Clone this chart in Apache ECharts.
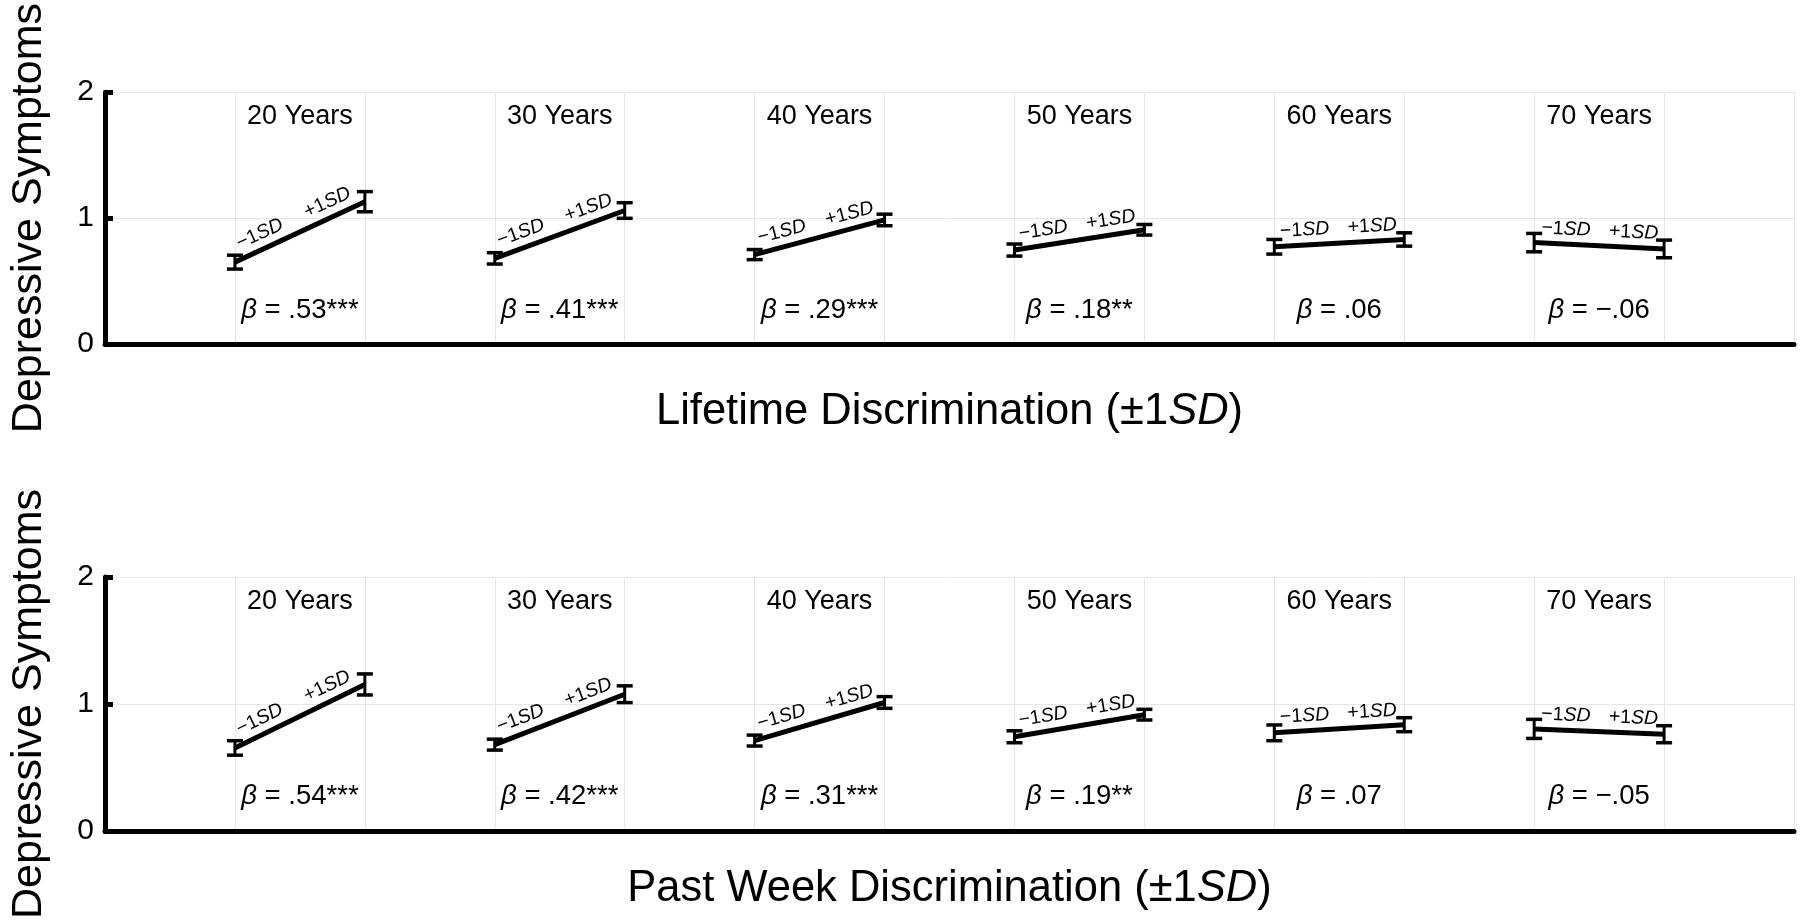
<!DOCTYPE html>
<html><head><meta charset="utf-8">
<script src="https://cdn.jsdelivr.net/npm/echarts/dist/echarts.min.js"></script>
<style>html,body{margin:0;padding:0;background:#fff}#chart{width:1800px;height:923px}</style>
</head><body><div id="chart"></div>
<script>
// ---- data ----
const ageGroups = ['20 Years', '30 Years', '40 Years', '50 Years', '60 Years', '70 Years'];
const yTicks = [0, 1, 2];
const lifetimeLow = [0.65, 0.68, 0.71, 0.746, 0.772, 0.805];
const lifetimeLowErr = [0.055, 0.045, 0.04, 0.048, 0.058, 0.073];
const lifetimeHigh = [1.13, 1.06, 0.985, 0.907, 0.83, 0.755];
const lifetimeHighErr = [0.08, 0.062, 0.046, 0.042, 0.053, 0.07];
const lifetimeBeta = ['.53***', '.41***', '.29***', '.18**', '.06', '\u2212.06'];
const pastWeekLow = [0.654, 0.68, 0.712, 0.742, 0.773, 0.804];
const pastWeekLowErr = [0.057, 0.043, 0.043, 0.047, 0.062, 0.075];
const pastWeekHigh = [1.154, 1.077, 1.012, 0.916, 0.837, 0.762];
const pastWeekHighErr = [0.083, 0.066, 0.046, 0.042, 0.055, 0.067];
const pastWeekBeta = ['.54***', '.42***', '.31***', '.19**', '.07', '\u2212.05'];
const lowLabel = '\u22121';
const highLabel = '+1';

// ---- styling ----
const FF = '"Liberation Sans", Arial, Helvetica, sans-serif';
const GRID_COLOR = '#e6e6e6';
const TITLE_Y = 1.81, BETA_Y = 0.27;

function makeRender(betas) {
  return function (params, api) {
    const i = params.dataIndex;
    const xL = api.value(0), yL = api.value(1), eL = api.value(2);
    const xR = api.value(3), yR = api.value(4), eR = api.value(5);
    const pL = api.coord([xL, yL]), pR = api.coord([xR, yR]);
    const ch = [];
    ch.push({type: 'line', shape: {x1: pL[0], y1: pL[1], x2: pR[0], y2: pR[1]},
      style: {stroke: '#000', lineWidth: 5}});
    [[xL, yL, eL], [xR, yR, eR]].forEach(function (d) {
      const t = api.coord([d[0], d[1] + d[2]]), b = api.coord([d[0], d[1] - d[2]]);
      ch.push({type: 'line', shape: {x1: t[0], y1: t[1], x2: b[0], y2: b[1]}, style: {stroke: '#000', lineWidth: 3}});
      ch.push({type: 'line', shape: {x1: t[0] - 8, y1: t[1], x2: t[0] + 8, y2: t[1]}, style: {stroke: '#000', lineWidth: 3.5}});
      ch.push({type: 'line', shape: {x1: b[0] - 8, y1: b[1], x2: b[0] + 8, y2: b[1]}, style: {stroke: '#000', lineWidth: 3.5}});
    });
    const dx = pR[0] - pL[0], dy = pR[1] - pL[1], len = Math.hypot(dx, dy);
    const ang = Math.atan2(-dy, dx);
    const nx = dy / len, ny = -dx / len, off = 15;
    [[0.24, lowLabel], [0.76, highLabel]].forEach(function (a) {
      ch.push({type: 'text', x: pL[0] + dx * a[0] + nx * off, y: pL[1] + dy * a[0] + ny * off, rotation: ang,
        style: {text: a[1] + '{i|SD}', fontSize: 19.5, fontFamily: FF, fill: '#000', align: 'center', verticalAlign: 'middle',
          rich: {i: {fontStyle: 'italic', fontSize: 19.5, fontFamily: FF, fill: '#000'}}}});
    });
    const cx = (xL + xR) / 2;
    const pt = api.coord([cx, TITLE_Y]);
    ch.push({type: 'text', x: pt[0], y: pt[1], style: {text: ageGroups[i], fontSize: 27, fontFamily: FF, fill: '#000', align: 'center', verticalAlign: 'middle'}});
    const pb = api.coord([cx, BETA_Y]);
    ch.push({type: 'text', x: pb[0], y: pb[1], style: {text: '{b|\u03B2} = ' + betas[i], fontSize: 27.5, fontFamily: FF, fill: '#000', align: 'center', verticalAlign: 'middle',
      rich: {b: {fontStyle: 'italic', fontSize: 27.5, fontFamily: FF, fill: '#000'}}}});
    return {type: 'group', children: ch};
  };
}

function xAxisCfg(gi, name, gap) {
  return {type: 'value', gridIndex: gi, min: 0, max: 13, interval: 1,
    axisLine: {show: true, onZero: false, lineStyle: {color: '#000', width: 5}},
    axisTick: {show: false}, axisLabel: {show: false},
    splitLine: {show: true, lineStyle: {color: GRID_COLOR, width: 1}},
    name: name, nameLocation: 'middle', nameGap: gap,
    nameTextStyle: {fontSize: 43.5, color: '#000', fontFamily: FF,
      rich: {i: {fontStyle: 'italic', fontSize: 43.5, color: '#000', fontFamily: FF}}}};
}
function yAxisCfg(gi) {
  return {type: 'value', gridIndex: gi, min: yTicks[0], max: yTicks[yTicks.length - 1], interval: 1,
    axisLine: {show: true, onZero: false, lineStyle: {color: '#000', width: 5}},
    axisTick: {show: true, inside: true, length: 8, lineStyle: {color: '#000', width: 5}},
    axisLabel: {fontSize: 30, color: '#000', margin: 11, fontFamily: FF},
    splitLine: {show: true, lineStyle: {color: GRID_COLOR, width: 1}},
    name: 'Depressive Symptoms', nameLocation: 'middle', nameGap: 54,
    nameTextStyle: {fontSize: 43, color: '#000', fontFamily: FF}};
}
function seriesData(low, lowErr, high, highErr) {
  return ageGroups.map(function (_, i) { return [2 * i + 1, low[i], lowErr[i], 2 * i + 2, high[i], highErr[i]]; });
}

const chart = echarts.init(document.getElementById('chart'), null, {renderer: 'canvas'});
chart.setOption({
  backgroundColor: '#fff',
  animation: false,
  grid: [
    {left: 98, top: 92, width: 1696, height: 252},
    {left: 98, top: 577, width: 1696, height: 254}
  ],
  xAxis: [xAxisCfg(0, 'Lifetime Discrimination (\u00B11{i|SD})', 46), xAxisCfg(1, 'Past Week Discrimination (\u00B11{i|SD})', 36)],
  yAxis: [yAxisCfg(0), yAxisCfg(1)],
  series: [
    {type: 'custom', xAxisIndex: 0, yAxisIndex: 0, clip: false, encode: {x: [0, 3], y: [1, 4]},
      data: seriesData(lifetimeLow, lifetimeLowErr, lifetimeHigh, lifetimeHighErr), renderItem: makeRender(lifetimeBeta)},
    {type: 'custom', xAxisIndex: 1, yAxisIndex: 1, clip: false, encode: {x: [0, 3], y: [1, 4]},
      data: seriesData(pastWeekLow, pastWeekLowErr, pastWeekHigh, pastWeekHighErr), renderItem: makeRender(pastWeekBeta)}
  ]
});
</script></body></html>
